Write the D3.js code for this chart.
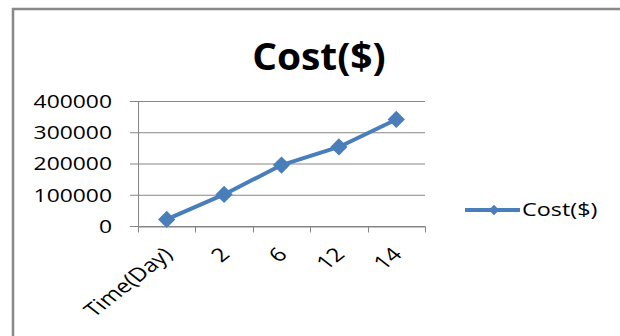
<!DOCTYPE html>
<html>
<head>
<meta charset="utf-8">
<script src="https://cdn.jsdelivr.net/npm/d3@7"></script>
<style>
  html, body { margin: 0; padding: 0; background: #fff; }
  svg { display: block; }
  text { font-family: "Open Sans", sans-serif; fill: #000; }
</style>
</head>
<body>
<svg id="chart" width="620" height="336"></svg>
<script>
const categories = ["Time(Day)", "2", "6", "12", "14"];
const costValues = [21000, 101000, 195000, 253000, 341000];
const yTicks = [0, 100000, 200000, 300000, 400000];
const seriesName = "Cost($)";
const titleText = "Cost($)";

const svg = d3.select("#chart");
const blue = "#4a7ebb";
const grid = "#868686";
const sx = 1.27;

// chart frame
svg.append("rect").attr("x", 13).attr("y", 9).attr("width", 640).attr("height", 360)
  .attr("fill", "#fff").attr("stroke", "#888").attr("stroke-width", 2.5);

const x = d3.scaleBand().domain(categories).range([138, 425]);
const y = d3.scaleLinear().domain([0, 400000]).range([226, 101]);

// gridlines + y ticks
const yAxis = d3.axisLeft(y).tickValues(yTicks).tickSize(-(425 - 138)).tickFormat(d3.format("d"));
const gy = svg.append("g").attr("transform", "translate(138,0)").call(yAxis);
gy.select(".domain").remove();
gy.selectAll(".tick line").attr("stroke", grid).attr("stroke-width", 1).attr("x1", -8);
gy.selectAll(".tick text").remove();
gy.selectAll(".tick").append("text")
  .attr("text-anchor", "end")
  .attr("dy", "0.36em")
  .attr("font-size", 18)
  .attr("transform", `translate(-26,0) scale(${sx},1)`)
  .text(d => d3.format("d")(d));

// y axis line
svg.append("line").attr("x1", 138.5).attr("x2", 138.5).attr("y1", 101).attr("y2", 226)
  .attr("stroke", grid);

// x axis
const xAxis = d3.axisBottom(x).tickSize(0).tickFormat(d => d);
const gx = svg.append("g").attr("transform", "translate(0,226.5)").call(xAxis);
gx.select(".domain").attr("stroke", grid);
gx.selectAll(".tick text").remove();
const bounds = categories.map(c => x(c)).concat([x.range()[1]]);
gx.selectAll("line.bt").data(bounds).enter().append("line")
  .attr("class", "bt")
  .attr("x1", d => Math.round(d) + 0.5).attr("x2", d => Math.round(d) + 0.5)
  .attr("y1", 0).attr("y2", 6).attr("stroke", grid);
gx.selectAll("text.xl").data(categories).enter().append("text")
  .attr("class", "xl")
  .attr("text-anchor", "end")
  .attr("font-size", 19)
  .attr("transform", d => `translate(${x(d) + x.bandwidth() / 2 + 7},${29}) scale(${sx},1) rotate(-45)`)
  .text(d => d);

// line
const line = d3.line().x((d, i) => x(categories[i]) + x.bandwidth() / 2).y(d => y(d));
svg.append("path").datum(costValues).attr("d", line)
  .attr("fill", "none").attr("stroke", blue).attr("stroke-width", 4).attr("stroke-linejoin", "round");

const diamond = d3.symbol().type(d3.symbolDiamond2).size(190);
svg.selectAll("path.mk").data(costValues).enter().append("path")
  .attr("class", "mk")
  .attr("d", diamond)
  .attr("transform", (d, i) => `translate(${x(categories[i]) + x.bandwidth() / 2},${y(d)})`)
  .attr("fill", blue);

// title
svg.append("text").attr("text-anchor", "middle").attr("font-weight", "bold")
  .attr("font-size", 37)
  .attr("transform", `translate(319,70) scale(1.05,1)`)
  .text(titleText);

// legend
svg.append("line").attr("x1", 465).attr("x2", 520).attr("y1", 210).attr("y2", 210)
  .attr("stroke", blue).attr("stroke-width", 4);
svg.append("path").attr("d", d3.symbol().type(d3.symbolDiamond2).size(70))
  .attr("transform", "translate(494,210)").attr("fill", blue);
svg.append("text").attr("font-size", 18)
  .attr("transform", `translate(522,216) scale(1.3,1)`)
  .text(seriesName);
</script>
</body>
</html>
